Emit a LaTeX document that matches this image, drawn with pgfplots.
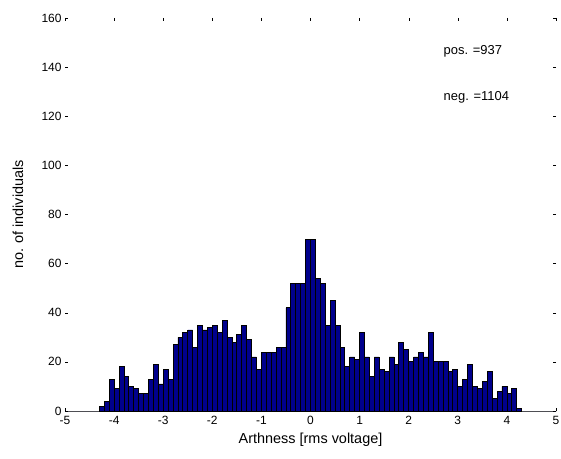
\documentclass[border=0pt]{standalone}
\usepackage{fontspec}
\setmainfont{Liberation Sans}
\usepackage{pgfplots}
\usepackage{pgfplotstable}
\pgfplotsset{compat=1.18}

\definecolor{barblue}{RGB}{0,0,140}

% left bin edge, count (bin width 0.1); last row closes the final bin
\pgfplotstableread{
x y
-5.0 0
-4.9 0
-4.8 0
-4.7 0
-4.6 0
-4.5 0
-4.4 0
-4.3 2
-4.2 4
-4.1 13
-4.0 9
-3.9 18
-3.8 14
-3.7 10
-3.6 9
-3.5 7
-3.4 7
-3.3 13
-3.2 19
-3.1 11
-3.0 17
-2.9 13
-2.8 27
-2.7 30
-2.6 32
-2.5 33
-2.4 26
-2.3 35
-2.2 33
-2.1 34
-2.0 35
-1.9 32
-1.8 37
-1.7 30
-1.6 28
-1.5 31
-1.4 35
-1.3 29
-1.2 22
-1.1 17
-1.0 24
-0.9 24
-0.8 24
-0.7 26
-0.6 26
-0.5 42
-0.4 52
-0.3 52
-0.2 52
-0.1 70
0.0 70
0.1 54
0.2 52
0.3 35
0.4 45
0.5 35
0.6 26
0.7 18
0.8 22
0.9 21
1.0 32
1.1 22
1.2 14
1.3 22
1.4 17
1.5 16
1.6 22
1.7 19
1.8 28
1.9 25
2.0 20
2.1 22
2.2 24
2.3 22
2.4 32
2.5 20
2.6 20
2.7 20
2.8 16
2.9 17
3.0 10
3.1 13
3.2 19
3.3 10
3.4 9
3.5 12
3.6 16
3.7 5
3.8 8
3.9 10
4.0 7
4.1 9
4.2 1
4.3 0
4.4 0
4.5 0
4.6 0
4.7 0
4.8 0
4.9 0
5.0 0
}\histdata

\begin{document}
\begin{tikzpicture}
\begin{axis}[
  scale only axis,
  width=491bp, height=393bp,
  xmin=-5, xmax=5, ymin=0, ymax=160,
  xtick={-5,-4,...,5},
  ytick={0,20,...,160},
  axis line style={draw=none},
  tick align=inside,
  major tick length=3bp,
  tick style={black, line width=0.4pt},
  ticklabel style={font=\fontsize{12}{14}\selectfont},
  xticklabel style={yshift=-2bp},
  /pgf/number format/assume math mode=true,
  xlabel={Arthness [rms voltage]},
  ylabel={no. of individuals},
  label style={font=\fontsize{14.5}{16}\selectfont},
  xlabel style={at={(axis description cs:0.5,-0.074)}, anchor=center},
  ylabel style={at={(axis description cs:-0.096,0.5)}, anchor=center},
  clip=false,
]
\addplot[ybar interval, fill=barblue, draw=black, line width=0.8pt]
  table[x=x, y=y] {\histdata};
\node[anchor=west, font=\fontsize{13}{15}\selectfont] at (axis cs:2.64,146.5) {pos. =937};
\node[anchor=west, font=\fontsize{13}{15}\selectfont] at (axis cs:2.64,127.8) {neg. =1104};
\end{axis}
\pgfresetboundingbox
\path ([shift={(-65bp,-48bp)}]current axis.south west) rectangle ([shift={(5bp,18bp)}]current axis.north east);
\end{tikzpicture}
\end{document}
